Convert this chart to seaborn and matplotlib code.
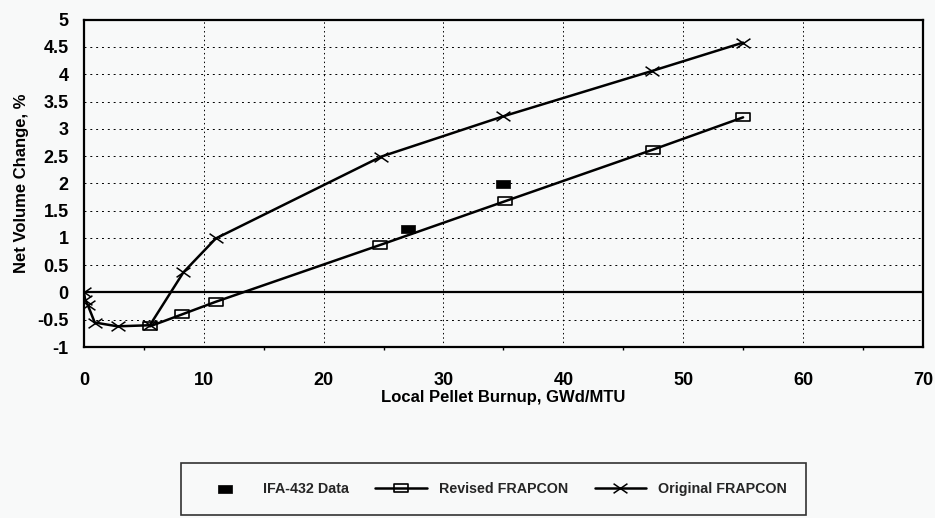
import numpy as np
import pandas as pd
import matplotlib
matplotlib.use("Agg")
import matplotlib.pyplot as plt
from matplotlib.path import Path
import seaborn as sns

# ---- data ----
orig_x = [0.0, 0.1, 0.3, 0.9, 2.8, 5.5, 8.3, 11.0, 24.8, 35.0, 47.4, 55.0]
orig_y = [0.0, -0.13, -0.22, -0.55, -0.62, -0.6, 0.37, 0.99, 2.49, 3.23, 4.06, 4.58]
rev_x = [5.5, 8.2, 11.0, 24.7, 35.1, 47.5, 55.0]
rev_y = [-0.62, -0.4, -0.17, 0.87, 1.67, 2.62, 3.21]
ifa_x = [27.0, 35.0]
ifa_y = [1.17, 1.98]

x_ticks = [0, 10, 20, 30, 40, 50, 60, 70]
y_ticks = [-1, -0.5, 0, 0.5, 1, 1.5, 2, 2.5, 3, 3.5, 4, 4.5, 5]
y_tick_labels = ["-1", "-0.5", "0", "0.5", "1", "1.5", "2", "2.5", "3", "3.5", "4", "4.5", "5"]

sns.set_theme(style="white")
plt.rcParams['font.family'] = ['Liberation Sans', 'DejaVu Sans']
plt.rcParams['font.weight'] = 'bold'

bg = "#f8f9f9"
fig = plt.figure(figsize=(9.35, 5.18), dpi=100, facecolor=bg)
ax = fig.add_axes([0.0898, 0.330, 0.8972, 0.632])
ax.set_facecolor(bg)

rect = Path([(-1, -0.55), (1, -0.55), (1, 0.55), (-1, 0.55), (-1, -0.55)],
            [Path.MOVETO, Path.LINETO, Path.LINETO, Path.LINETO, Path.CLOSEPOLY])
xmark = Path([(-1.3, -0.9), (1.3, 0.9), (-1.3, 0.9), (1.3, -0.9)],
             [Path.MOVETO, Path.LINETO, Path.MOVETO, Path.LINETO])

df_o = pd.DataFrame({"x": orig_x, "y": orig_y})
df_r = pd.DataFrame({"x": rev_x, "y": rev_y})
df_i = pd.DataFrame({"x": ifa_x, "y": ifa_y})

# grid
for yv in y_ticks:
    if yv == 0:
        ax.axhline(0, color="black", lw=1.6, zorder=1)
    elif yv not in (-1, 5):
        ax.axhline(yv, color="black", lw=0.7, ls=(0, (2, 4)), zorder=1)
for xv in x_ticks[1:-1]:
    ax.axvline(xv, color="black", lw=0.7, ls=(0, (1.5, 3)), zorder=1)

sns.lineplot(data=df_r, x="x", y="y", ax=ax, color="black", lw=1.8,
             marker=rect, markersize=9.5, markerfacecolor="none",
             markeredgecolor="black", markeredgewidth=1.2, label="Revised FRAPCON",
             sort=False, zorder=3)
sns.lineplot(data=df_o, x="x", y="y", ax=ax, color="black", lw=1.8,
             marker=xmark, markersize=10, markeredgewidth=1.1, markerfacecolor="none",
             markeredgecolor="black", label="Original FRAPCON", sort=False, zorder=3)
sns.scatterplot(data=df_i, x="x", y="y", ax=ax, marker=rect, s=90,
                color="black", edgecolor="black", linewidth=0.5,
                label="IFA-432 Data", zorder=4)

ax.set_xlim(0, 70)
ax.set_ylim(-1, 5)
ax.set_xticks(x_ticks)
ax.set_xticks([5, 15, 25, 35, 45, 55, 65], minor=True)
ax.set_yticks(y_ticks)
ax.set_yticklabels(y_tick_labels)
ax.tick_params(axis="both", which="major", direction="out", length=5, width=1.2,
               color="black", labelsize=13, labelcolor="black", pad=6)
ax.tick_params(axis="x", which="minor", direction="out", length=2, width=1,
               color="black", bottom=True)
ax.tick_params(axis="x", pad=13)
for lab in ax.get_xticklabels() + ax.get_yticklabels():
    lab.set_fontweight("bold")

for sp in ax.spines.values():
    sp.set_visible(True)
    sp.set_color("black")
    sp.set_linewidth(1.6)

ax.set_xlabel("Local Pellet Burnup, GWd/MTU", fontsize=12, fontweight="bold",
              color="black", labelpad=1)
ax.set_ylabel("Net Volume Change, %", fontsize=12, fontweight="bold",
              color="black", labelpad=6)

handles, labels = ax.get_legend_handles_labels()
order = [labels.index("IFA-432 Data"), labels.index("Revised FRAPCON"),
         labels.index("Original FRAPCON")]
ax.get_legend().remove()
leg = fig.legend([handles[i] for i in order], [labels[i] for i in order],
                 loc="center", bbox_to_anchor=(0.5275, 0.056), ncol=3,
                 frameon=True, fancybox=False, edgecolor="black",
                 facecolor=bg, prop={"size": 10.3, "weight": "bold"},
                 handlelength=3.6, columnspacing=1.85, borderpad=1.3,
                 handletextpad=0.85, borderaxespad=0)
leg.get_frame().set_linewidth(1.2)

fig.savefig("out.png", dpi=100, facecolor=bg)
